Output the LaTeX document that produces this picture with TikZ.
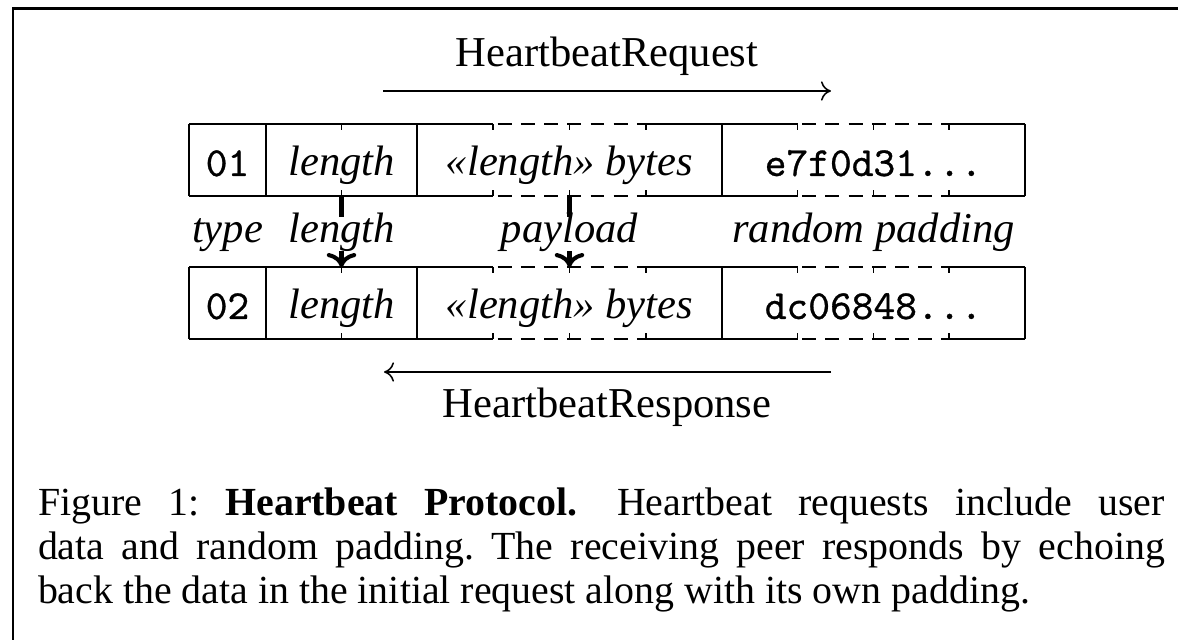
\documentclass[tikz,border=0pt]{standalone}
\usepackage{fontspec}
\setmainfont{Liberation Serif}
\newfontfamily\codefont{lmmono10-regular.otf}[FakeBold=0.7]
\usetikzlibrary{arrows.meta}
\begin{document}
\begin{tikzpicture}[x=0.2584pt,y=-0.2584pt,
  every node/.style={inner sep=0pt, outer sep=0pt},
  celltext/.style={anchor=base, font=\fontsize{11}{13}\selectfont\itshape},
  monotext/.style={anchor=base, font=\fontsize{10.7}{12}\selectfont\codefont},
  fieldlabel/.style={anchor=base, fill=white, inner xsep=1pt, inner ysep=0pt, text height=6.6pt, text depth=2.1pt, font=\fontsize{11}{13}\selectfont\itshape},
  msgtitle/.style={anchor=base, font=\fontsize{11}{13}\selectfont},
  solidedge/.style={line width=0.4pt},
  dashededge/.style={line width=0.4pt, dash pattern=on 3.6pt off 2.4pt, dash phase=-1.2pt},
  tickmark/.style={line width=0.4pt},
  flow/.style={line width=0.4pt, -{To[length=2.6pt,width=5pt]}},
  echo/.style={line width=1.05pt, -{To[length=3.6pt,width=7.6pt]}},
  framerule/.style={line width=0.75pt, line join=miter}
]
\useasboundingbox (0,0) rectangle (1178,640);
% frame (cropped)
\draw[framerule] (13,640) -- (13,8.5) -- (1178,8.5);

% request title and arrow
\node[msgtitle] (reqtitle) at (607,66.7) {HeartbeatRequest};
\coordinate (reqA) at (383,91);
\coordinate (reqB) at (831,91);
\draw[flow] (reqA) -- (reqB);

% two rows of cells
\foreach \t/\b in {124/196, 267/339}{
  \draw[solidedge] (189,\t) -- (493,\t) (646,\t) -- (797.5,\t) (949,\t) -- (1025,\t);
  \draw[solidedge] (189,\b) -- (493,\b) (646,\b) -- (797.5,\b) (949,\b) -- (1025,\b);
  \draw[dashededge] (493,\t) -- (646,\t) (797.5,\t) -- (949,\t);
  \draw[dashededge] (493,\b) -- (646,\b) (797.5,\b) -- (949,\b);
  \foreach \x in {189,266,417,722,1025}{
    \draw[solidedge] (\x,\t) -- (\x,\b);
  }
  \foreach \x in {341.5,493,569.5,646,797.5,873.5,949}{
    \draw[tickmark] (\x,\t) -- (\x,\t+6) (\x,\b) -- (\x,\b-6);
  }
}

% request contents
\node[monotext] (reqtype) at (227.5,176) {01};
\node[celltext] (reqlen) at (341.5,176) {length};
\node[celltext] (reqpay) at (569.5,176) {«length» bytes};
\node[monotext] (reqpad) at (873.5,176) {e7f0d31...};

% response contents
\node[monotext] (restype) at (227.5,319) {02};
\node[celltext] (reslen) at (341.5,319) {length};
\node[celltext] (respay) at (569.5,319) {«length» bytes};
\node[monotext] (respad) at (873.5,319) {dc06848...};

% echo arrows
\coordinate (lenA) at (341.5,196);
\coordinate (lenB) at (341.5,267);
\coordinate (payA) at (569.5,196);
\coordinate (payB) at (569.5,267);
\draw[echo] (lenA) -- (lenB);
\draw[echo] (payA) -- (payB);

% field labels
\node[fieldlabel] (ltype) at (227.5,243) {type};
\node[fieldlabel] (llen) at (341.5,243) {length};
\node[fieldlabel] (lpay) at (569.5,243) {payload};
\node[fieldlabel] (lpad) at (873.5,243) {random padding};

% response arrow and title
\coordinate (resA) at (831,372);
\coordinate (resB) at (384,372);
\draw[flow] (resA) -- (resB);
\node[msgtitle] (restitle) at (607,418) {HeartbeatResponse};

% caption
\node[anchor=base west] (caption) at (38,516) {\parbox[t]{291.2pt}{\fontsize{10.3}{11.3}\selectfont\frenchspacing
Figure 1: \textbf{Heartbeat Protocol.}\quad Heartbeat requests include user\linebreak
data and random padding. The receiving peer responds by echoing\linebreak
back the data in the initial request along with its own padding.}};
\end{tikzpicture}
\end{document}
